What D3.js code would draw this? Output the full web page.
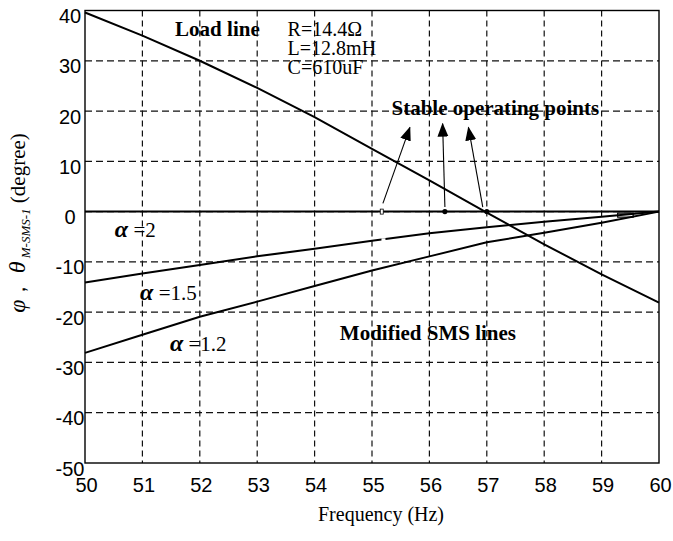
<!DOCTYPE html>
<html>
<head>
<meta charset="utf-8">
<script src="https://cdn.jsdelivr.net/npm/d3@7"></script>
<style>
  body { margin: 0; background: #fff; }
  svg { display: block; }
</style>
</head>
<body>
<div id="chart"></div>
<script>
// values (degrees)
var freq = [50, 51, 52, 53, 54, 55, 56, 57, 58, 59, 60];
var loadLine = [39.6, 35.0, 30.0, 24.6, 18.8, 12.5, 6.2, -0.2, -6.5, -12.5, -18.1];
var smsA2 = [0, 0, 0, 0, 0, 0, 0, 0, 0, 0, 0];
var smsA15 = [-14.1, -12.3, -10.6, -8.9, -7.4, -5.8, -4.3, -3.1, -2.0, -1.0, 0];
var smsA12 = [-28.1, -24.5, -20.9, -17.9, -14.8, -11.7, -8.9, -6.1, -4.2, -2.2, 0];
var xTicks = [50, 51, 52, 53, 54, 55, 56, 57, 58, 59, 60];
var yTicks = [-50, -40, -30, -20, -10, 0, 10, 20, 30, 40];
var stableFreq = [56.27, 57.0];
var arrowTails = [[55.19, 1.65], [56.27, 0.9], [56.93, 0.9]];
var arrowTips = [[55.66, 16.75], [56.23, 17.5], [56.68, 16.75]];

var width = 673,
    height = 541,
    margin = {top: 10.5, right: 14, bottom: 78, left: 85};

var x = d3.scaleLinear().domain([50, 60]).range([margin.left, width - margin.right]);
var y = d3.scaleLinear().domain([-50, 40]).range([height - margin.bottom, margin.top]);

var svg = d3.select("#chart").append("svg")
    .attr("width", width)
    .attr("height", height)
    .style("background", "#fff");

svg.append("defs").append("marker")
    .attr("id", "head")
    .attr("markerUnits", "userSpaceOnUse")
    .attr("viewBox", "0 -6 14 12")
    .attr("refX", 13)
    .attr("refY", 0)
    .attr("markerWidth", 14)
    .attr("markerHeight", 12)
    .attr("orient", "auto")
    .append("path")
    .attr("d", "M0,-5.5L14,0L0,5.5Z")
    .attr("fill", "#000");

// dashed grid
svg.append("g")
    .selectAll("line")
    .data(xTicks.slice(1, -1))
    .join("line")
    .attr("x1", function(d) { return x(d); })
    .attr("x2", function(d) { return x(d); })
    .attr("y1", y(40))
    .attr("y2", y(-50))
    .attr("stroke", "#111")
    .attr("stroke-width", 1.2)
    .attr("stroke-dasharray", "6,4");

svg.append("g")
    .selectAll("line")
    .data(yTicks.slice(1, -1))
    .join("line")
    .attr("x1", x(50))
    .attr("x2", x(60))
    .attr("y1", function(d) { return y(d); })
    .attr("y2", function(d) { return y(d); })
    .attr("stroke", "#111")
    .attr("stroke-width", 1.2)
    .attr("stroke-dasharray", "7,4");

// frame
svg.append("rect")
    .attr("x", x(50))
    .attr("y", y(40))
    .attr("width", x(60) - x(50))
    .attr("height", y(-50) - y(40))
    .attr("fill", "none")
    .attr("stroke", "#000")
    .attr("stroke-width", 1.4);

// axes (labels only), plain hyphen for negatives like the original
var xAxis = svg.append("g")
    .attr("transform", "translate(0," + y(-50) + ")")
    .call(d3.axisBottom(x).tickValues(xTicks).tickFormat(String).tickSize(0).tickPadding(15));
xAxis.select(".domain").remove();
xAxis.selectAll("text")
    .attr("dx", 1)
    .style("font-family", "'Liberation Sans', Arial, sans-serif")
    .style("font-size", "20px")
    .style("fill", "#000");

var yAxis = svg.append("g")
    .attr("transform", "translate(" + x(50) + ",0)")
    .call(d3.axisLeft(y).tickValues(yTicks).tickFormat(String).tickSize(0));
yAxis.select(".domain").remove();
yAxis.selectAll("text")
    .attr("x", -15)
    .attr("dy", "0.6em")
    .attr("text-anchor", "middle")
    .style("font-family", "'Liberation Sans', Arial, sans-serif")
    .style("font-size", "20px")
    .style("fill", "#000");

// curves
var line = d3.line()
    .x(function(d, i) { return x(freq[i]); })
    .y(function(d) { return y(d); });

[loadLine, smsA2, smsA15, smsA12].forEach(function(s) {
  svg.append("path")
      .datum(s)
      .attr("d", line)
      .attr("fill", "none")
      .attr("stroke", "#000")
      .attr("stroke-width", 2);
});

// little markers on the lines
svg.append("rect")
    .attr("x", x(55.2) - 2)
    .attr("y", y(-5.8) - 2.5)
    .attr("width", 4)
    .attr("height", 5)
    .attr("fill", "#fff");
svg.append("rect")
    .attr("x", x(55.17) - 1.5)
    .attr("y", y(0) - 2.5)
    .attr("width", 3)
    .attr("height", 5)
    .attr("fill", "#fff")
    .attr("stroke", "#000")
    .attr("stroke-width", 0.8);
svg.append("rect")
    .attr("x", x(59.28))
    .attr("y", y(-0.3))
    .attr("width", x(59.55) - x(59.28))
    .attr("height", y(-1.1) - y(-0.3))
    .attr("fill", "none")
    .attr("stroke", "#000")
    .attr("stroke-width", 1.2);

svg.append("g")
    .selectAll("circle")
    .data(stableFreq)
    .join("circle")
    .attr("cx", function(d) { return x(d); })
    .attr("cy", y(0))
    .attr("r", 2.6)
    .attr("fill", "#000");

// arrows
svg.append("g")
    .selectAll("line")
    .data(arrowTails)
    .join("line")
    .attr("x1", function(d) { return x(d[0]); })
    .attr("y1", function(d) { return y(d[1]); })
    .attr("x2", function(d, i) { return x(arrowTips[i][0]); })
    .attr("y2", function(d, i) { return y(arrowTips[i][1]); })
    .attr("stroke", "#000")
    .attr("stroke-width", 1.1)
    .attr("marker-end", "url(#head)");

// annotations
var serif = "'Liberation Serif', 'Times New Roman', serif";

function note(fx, fy, txt, bold, size) {
  return svg.append("text")
      .attr("x", x(fx))
      .attr("y", y(fy))
      .style("font-family", serif)
      .style("font-size", (size || 21) + "px")
      .style("font-weight", bold ? "bold" : "normal")
      .style("fill", "#000")
      .text(txt);
}

note(51.57, 35.0, "Load line", true);
var rlc = note(53.53, 34.9, "", false, 20);
["R=14.4\u03a9", "L=12.8mH", "C=610uF"].forEach(function(t, i) {
  rlc.append("tspan")
      .attr("x", x(53.53))
      .attr("dy", i === 0 ? 0 : 19)
      .text(t);
});
note(55.34, 19.3, "Stable operating points", true);
note(54.44, -25.6, "Modified SMS lines", true);

function alpha(fx, fy, val) {
  var t = note(fx, fy, "", false);
  t.append("tspan")
      .style("font-weight", "bold")
      .style("font-style", "italic")
      .style("font-size", "24px")
      .text("\u03b1");
  t.append("tspan").text(" =" + val);
}
alpha(50.52, -5.1, "2");
alpha(50.96, -17.6, "1.5");
alpha(51.48, -27.8, "1.2");

// axis titles
svg.append("text")
    .attr("x", (x(50) + x(60)) / 2 + 9)
    .attr("y", 521)
    .attr("text-anchor", "middle")
    .style("font-family", serif)
    .style("font-size", "20px")
    .style("fill", "#000")
    .text("Frequency (Hz)");

var yl = svg.append("text")
    .attr("transform", "translate(25,223) rotate(-90)")
    .attr("text-anchor", "middle")
    .style("font-family", serif)
    .style("font-size", "21px")
    .style("fill", "#000");
yl.append("tspan").style("font-style", "italic").style("font-size", "24px").text("\u03c6");
yl.append("tspan").text("\uff0c ");
yl.append("tspan").style("font-style", "italic").style("font-size", "24px").text("\u03b8");
yl.append("tspan").attr("dy", 5).style("font-style", "italic").style("font-size", "13px").text(" M-SMS-1");
yl.append("tspan").attr("dy", -5).text(" (degree)");
</script>
</body>
</html>
